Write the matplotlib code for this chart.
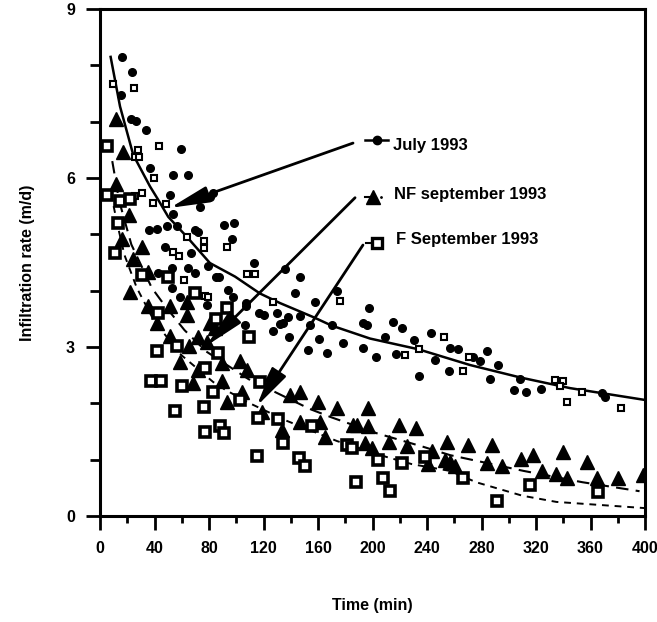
import numpy as np
import matplotlib
matplotlib.use("Agg")
import matplotlib.pyplot as plt

plt.rcParams['font.family'] = ['Liberation Sans', 'DejaVu Sans']

# July 1993, filled circles (time in min, rate in m/d)
july_t = [15.9, 23.7, 15.2, 22.5, 26.4, 33.8, 59.5, 36.7, 53.6, 64.6, 51.4, 73.4, 80.7, 83.2,
          53.8, 91, 98.3, 36.2, 42.1, 48.9, 56.7, 69.7, 72.2, 96.6, 47.7, 66.5, 113, 79.5,
          52.6, 64.8, 69.7, 85.1, 87.6, 42.8, 52.6, 94.2, 97.8, 58.7, 78.3, 107, 107, 117,
          120, 106.4, 126.8, 146.8, 129.7, 132.1, 134.5, 138.2, 143.1, 138.9, 157.8, 161,
          152.9, 166.8, 173.7, 170, 178, 193.3, 195.7, 197.7, 192.8, 202.6, 146.8, 154.1,
          135.8, 209.2, 214.8, 221.9, 230.7, 217.2, 243, 256.9, 263, 245.9, 234.4, 256.4,
          274, 278.9, 284.3, 292.4, 286.2, 303.9, 312.7, 308.3, 323.7, 368.7, 370.6]
july_v = [8.15, 7.88, 7.47, 7.04, 7.02, 6.86, 6.51, 6.18, 6.05, 6.06, 5.70, 5.48, 5.66, 5.73,
          5.36, 5.17, 5.21, 5.08, 5.09, 5.14, 5.15, 5.07, 5.05, 4.91, 4.77, 4.66, 4.49, 4.44,
          4.41, 4.40, 4.32, 4.24, 4.25, 4.32, 4.04, 4.01, 3.88, 3.89, 3.75, 3.73, 3.78, 3.61,
          3.57, 3.39, 3.29, 4.25, 3.61, 3.41, 3.42, 3.54, 3.96, 3.17, 3.80, 3.14,
          2.95, 2.90, 4.00, 3.39, 3.07, 3.43, 3.39, 3.69, 2.98, 2.83, 3.55, 3.39,
          4.38, 3.18, 3.45, 3.34, 3.12, 2.88, 3.24, 2.99, 2.96, 2.77, 2.49, 2.58,
          2.82, 2.76, 2.93, 2.68, 2.43, 2.24, 2.20, 2.44, 2.26, 2.18, 2.11]

# July 1993, small open symbols
july_open_t = [9.3, 25, 28.1, 25.7, 28.8, 43.5, 39.6, 39.1, 48.4, 25.7, 30.6, 76.3, 76.3, 53.3,
               58.2, 93, 63.6, 107.7, 113.8, 61.7, 77, 79.5, 127.2, 176, 223.9, 234.1, 252.7,
               266.7, 271, 334, 340, 337.6, 343, 354, 382.4]
july_open_v = [7.66, 7.59, 6.50, 6.37, 6.37, 6.56, 6.00, 5.56, 5.54, 5.68, 5.73, 4.89, 4.75, 4.69,
               4.62, 4.77, 4.95, 4.30, 4.30, 4.19, 3.91, 3.88, 3.80, 3.81, 2.86, 2.96, 3.17,
               2.58, 2.83, 2.41, 2.40, 2.31, 2.02, 2.20, 1.91]

# NF september 1993, triangles
nf_t = [11.7, 16.6, 11.7, 21, 15.9, 30.6, 24.5, 35.5, 22, 35.5, 51.4, 63.6, 64.1, 41.6, 80.7,
        84.4, 51.4, 72.2, 78.3, 65.5, 58.7, 89.3, 103, 107.7, 72.2, 126.5, 89.3, 68.5, 93, 104,
        118.7, 133.3, 139.4, 146.8, 146.8, 160.2, 161.5, 165.1, 173.7, 186, 188.4, 197, 197,
        194.5, 199.4, 219.7, 231.9, 212.3, 225.6, 254.9, 269.9, 287.5, 243.4, 241, 253.2,
        260.6, 256.9, 284.3, 294.8, 308.8, 317.6, 324.2, 334.7, 342.5, 339.6, 357.2, 364.5,
        380.4, 398.8]
nf_v = [7.04, 6.47, 5.89, 5.35, 4.91, 4.77, 4.57, 4.34, 3.98, 3.73, 3.73, 3.80, 3.57, 3.42, 3.42,
        3.33, 3.20, 3.18, 3.09, 3.01, 2.74, 2.71, 2.75, 2.59, 2.59, 2.52, 2.40, 2.36, 2.03, 2.21,
        1.85, 1.53, 2.15, 2.21, 1.67, 2.03, 1.67, 1.41, 1.91, 1.62, 1.62, 1.91, 1.59,
        1.29, 1.20, 1.62, 1.56, 1.32, 1.25, 1.32, 1.26, 1.26, 1.16, 0.92, 0.99,
        0.88, 0.95, 0.94, 0.89, 1.02, 1.09, 0.79, 0.74, 0.67, 1.14, 0.95, 0.67,
        0.67, 0.73]

# F September 1993, open squares
f_t = [4.9, 4.9, 14.7, 22, 13.5, 11, 30.6, 50.2, 69.7, 42.8, 41.6, 56.3, 86.8, 77, 37.5, 45,
       85, 93, 109.6, 60, 55, 76.3, 77, 88, 91, 83.2, 117.4, 115, 116.2, 130.9, 146, 150.5,
       155.5, 181, 184.7, 187.9, 204.3, 102.8, 134.1, 221.4, 238.5, 207.5, 212.8, 266.2,
       291.1, 315.6, 365.3]
f_v = [6.56, 5.70, 5.60, 5.62, 5.21, 4.66, 4.28, 4.25, 3.95, 3.60, 2.93, 3.02, 2.89, 2.63, 2.40, 2.40,
       3.50, 3.69, 3.18, 2.30, 1.87, 1.94, 1.50, 1.60, 1.48, 2.21, 2.38, 1.06, 1.74, 1.72, 1.03, 0.88,
       1.60, 1.26, 1.20, 0.61, 0.99, 2.06, 1.30, 0.94, 1.05, 0.67, 0.45, 0.67,
       0.27, 0.55, 0.43]

# fitted curves, points
july_fit_t = [7.8, 14.7, 24.4, 36.7, 42.8, 50.1, 63.6, 80.7, 99.1, 117.4, 132.1, 156.6, 170,
              198.2, 233.6, 271.6, 308.3, 345, 400]
july_fit_v = [8.15, 7.27, 6.41, 5.85, 5.61, 5.31, 4.96, 4.49, 4.25, 3.95, 3.78, 3.53, 3.38,
              3.15, 2.96, 2.68, 2.46, 2.27, 2.06]
nf_fit_t = [9, 14, 23, 38, 48, 62, 78, 109, 154, 170, 203, 237, 257, 311, 354, 396]
nf_fit_v = [6.3, 5.6, 4.82, 4.05, 3.72, 3.3, 2.92, 2.43, 1.9, 1.75, 1.47, 1.23, 1.08, 0.8, 0.6, 0.44]
f_fit_t = [10, 13, 18, 27, 40, 60, 83, 92, 110, 137, 174, 210, 229, 257, 276, 310, 335, 400]
f_fit_v = [5.5, 5.15, 4.63, 4.05, 3.45, 2.85, 2.38, 2.24, 2.0, 1.69, 1.33, 1.05, 0.92, 0.8, 0.6,
           0.36, 0.25, 0.14]

labels = ["July 1993", "NF september 1993", "F September 1993"]

fig = plt.figure(figsize=(6.57, 6.22), dpi=100)
ax = fig.add_axes([100 / 657, 106 / 622, 545 / 657, 507 / 622])

ax.plot(july_fit_t, july_fit_v, '-', color='k', lw=1.8)
ax.plot(nf_fit_t, nf_fit_v, color='k', lw=1.5, dashes=(6, 3.5))
ax.plot(f_fit_t, f_fit_v, color='k', lw=1.4, dashes=(3.5, 3))

ax.plot(july_t, july_v, 'o', color='k', ms=5.5, ls='none')
ax.plot(july_open_t, july_open_v, 's', mfc='white', mec='k', mew=1.5, ms=4.5, ls='none')
ax.plot(nf_t, nf_v, '^', color='k', ms=10, ls='none')
ax.plot(f_t, f_v, 's', mfc='white', mec='k', mew=2.6, ms=6.8, ls='none')

# labels with arrows pointing to the curves
arrow = dict(arrowstyle='-|>,head_length=1.2,head_width=0.25', color='k', lw=2,
             mutation_scale=20, shrinkA=0, shrinkB=0)
ax.annotate('', xy=(51.4, 5.47), xytext=(185.7, 6.62), arrowprops=arrow)
ax.annotate('', xy=(78, 3.02), xytext=(187.2, 5.65), arrowprops=arrow)
ax.annotate('', xy=(115, 1.95), xytext=(193, 4.81), arrowprops=arrow)

tfont = dict(fontsize=12, fontweight='bold', va='center', ha='left')
ax.plot([194.5, 211.4], [6.67, 6.67], '-', color='k', lw=1.8, clip_on=False)
ax.plot([203], [6.67], 'o', color='k', ms=6, clip_on=False)
ax.text(215, 6.57, labels[0], **tfont)
ax.plot([194.5, 198.5], [5.66, 5.66], '-', color='k', lw=1.5, clip_on=False)
ax.plot([200.4], [5.66], '^', color='k', ms=10, clip_on=False)
ax.plot([206.6], [5.66], '.', color='k', ms=2, clip_on=False)
ax.text(215.8, 5.70, labels[1], **tfont)
ax.plot([195.2, 200], [4.85, 4.85], '-', color='k', lw=1.5, clip_on=False)
ax.plot([203.3], [4.85], 's', mfc='white', mec='k', mew=2.4, ms=6.5, clip_on=False)
ax.text(217.2, 4.90, labels[2], **tfont)

ax.set_xlim(0, 400)
ax.set_ylim(0, 9)
ax.set_xticks(np.arange(0, 401, 40))
ax.set_xticks(np.arange(20, 400, 40), minor=True)
ax.set_yticks([0, 3, 6, 9])
ax.set_yticks([1, 2, 4, 5, 7, 8], minor=True)
ax.tick_params(which='both', direction='out', width=2, color='k')
ax.tick_params(axis='x', which='major', length=10, pad=8, labelsize=11.5)
ax.tick_params(axis='x', which='minor', length=5)
ax.tick_params(axis='y', which='major', length=10, pad=8, labelsize=11.5)
ax.tick_params(axis='y', which='minor', length=7)
for lab in ax.get_xticklabels() + ax.get_yticklabels():
    lab.set_fontweight('bold')
for s in ax.spines.values():
    s.set_linewidth(2.2)

ax.set_xlabel("Time (min)", fontsize=11.5, fontweight='bold', labelpad=30)
ax.set_ylabel("Infiltration rate (m/d)", fontsize=11.5, fontweight='bold', labelpad=22)

fig.savefig("out.png", dpi=100)
